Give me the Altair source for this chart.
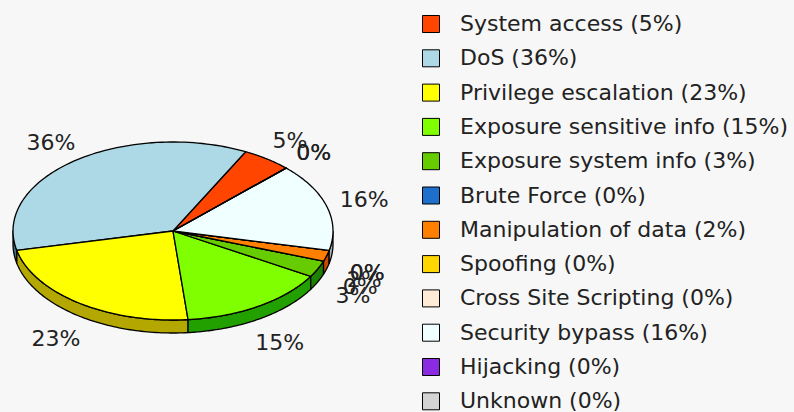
import altair as alt
import pandas as pd

# ---- data ----
labels = ["System access", "DoS", "Privilege escalation", "Exposure sensitive info",
          "Exposure system info", "Brute Force", "Manipulation of data", "Spoofing",
          "Cross Site Scripting", "Security bypass", "Hijacking", "Unknown"]
percents = [5, 36, 23, 15, 3, 0, 2, 0, 0, 16, 0, 0]

# ---- styles ----
top_colors = ["#FF4500", "#ADD8E6", "#FFFF00", "#7FFF00", "#66CC00", "#1E6FCC",
              "#FF8000", "#FFD700", "#FFEBD6", "#F0FFFF", "#8A2BE2", "#D3D3D3"]
wall_colors = ["#B33000", "#3F7080", "#B4A800", "#22A000", "#1E8000", "#104A88",
               "#C84800", "#B09400", "#B8A890", "#A8B4B4", "#5A1A99", "#909090"]

legend_labels = [f"{l} ({p}%)" for l, p in zip(labels, percents)]
df = pd.DataFrame({
    "k": list(range(len(labels))),
    "label": legend_labels,
    "pct": percents,
    "txt": [f"{p}%" for p in percents],
})

# ---- geometry of the pseudo-3D pie (pixels) ----
W, H = 794, 412
CX, CY, RX, RY, DEPTH = 173, 231, 160, 89, 13
START = -45          # degrees, screen coordinates (y down), slices run counter-clockwise
LRX, LRY, LDROP = 199, 111, 18  # label ellipse
N = 80
FONT_SIZE = 22

xs = alt.Scale(domain=[0, W], nice=False, zero=False)
ys = alt.Scale(domain=[0, H], nice=False, zero=False, reverse=True)

base = alt.Chart(df).transform_window(
    cum="sum(pct)", sort=[alt.SortField("k")], frame=[None, 0]
).transform_joinaggregate(total="sum(pct)").transform_calculate(
    a0=f"({START} - 360*(datum.cum - datum.pct)/datum.total)*PI/180",
    a1=f"({START} - 360*datum.cum/datum.total)*PI/180",
)

# side walls (front half only)
wall = base.transform_calculate(
    sh="(max(datum.a0, datum.a1) <= 0) ? 2*PI : 0",
    wl="'wall ' + datum.label",
).transform_calculate(
    wlo="max(min(datum.a0, datum.a1) + datum.sh, 0)",
    whi="min(max(datum.a0, datum.a1) + datum.sh, PI)",
).transform_filter("datum.whi > datum.wlo").transform_calculate(
    idx=f"sequence(0, {2 * N + 1})"
).transform_flatten(["idx"]).transform_calculate(
    j=f"datum.idx < {N} ? datum.idx : (datum.idx < {2 * N} ? {2 * N - 1} - datum.idx : 0)"
).transform_calculate(
    ang=f"datum.wlo + (datum.whi - datum.wlo)*datum.j/{N - 1}"
).transform_calculate(
    px=f"{CX} + {RX}*cos(datum.ang)",
    py=f"{CY} + {RY}*sin(datum.ang) + ((datum.idx >= {N} && datum.idx < {2 * N}) ? {DEPTH} : 0)",
).mark_line(filled=True, stroke="black", strokeWidth=1.3, strokeJoin="round").encode(
    x=alt.X("px:Q", scale=xs, axis=None),
    y=alt.Y("py:Q", scale=ys, axis=None),
    fill=alt.Fill("wl:N", scale=alt.Scale(domain=["wall " + s for s in legend_labels],
                                          range=wall_colors), legend=None),
    detail="label:N",
    order="idx:Q",
)

# top faces
top = base.transform_calculate(
    idx=f"sequence(0, {N + 2})"
).transform_flatten(["idx"]).transform_calculate(
    ang=f"datum.a0 + (datum.a1 - datum.a0)*(datum.idx - 1)/{N - 1}"
).transform_calculate(
    px=f"(datum.idx == 0 || datum.idx == {N + 1}) ? {CX} : {CX} + {RX}*cos(datum.ang)",
    py=f"(datum.idx == 0 || datum.idx == {N + 1}) ? {CY} : {CY} + {RY}*sin(datum.ang)",
).mark_line(filled=True, stroke="black", strokeWidth=1.3, strokeJoin="round").encode(
    x=alt.X("px:Q", scale=xs, axis=None),
    y=alt.Y("py:Q", scale=ys, axis=None),
    color=alt.Color(
        "label:N",
        scale=alt.Scale(domain=legend_labels, range=top_colors),
        legend=alt.Legend(
            title=None, orient="none", legendX=420, legendY=13,
            symbolType="square", symbolSize=289, symbolStrokeColor="black",
            symbolStrokeWidth=1, symbolOpacity=1,
            labelFont="DejaVu Sans", labelFontSize=FONT_SIZE, labelColor="#222",
            labelOffset=18, rowPadding=12.3, labelLimit=500, padding=0,
        ),
    ),
    detail="label:N",
    order="idx:Q",
)

# percentage labels
lab = base.transform_calculate(
    mid="(datum.a0 + datum.a1)/2"
).transform_calculate(
    lx=f"{CX} + {LRX}*cos(datum.mid)",
    ly=f"{CY} + {LRY}*sin(datum.mid) + (sin(datum.mid) > 0 ? {LDROP} : 0)",
).mark_text(font="DejaVu Sans", fontSize=FONT_SIZE, color="#222", baseline="middle", align="center").encode(
    x=alt.X("lx:Q", scale=xs, axis=None),
    y=alt.Y("ly:Q", scale=ys, axis=None),
    text="txt:N",
)

chart = alt.layer(wall, top, lab).resolve_scale(
    fill="independent", color="independent"
).resolve_legend(fill="independent", color="independent").properties(
    width=W, height=H, padding=0, background="#F7F7F7",
    autosize=alt.AutoSizeParams(type="none"),
).configure_view(stroke=None)

chart.save("out.html", embed_options={"renderer": "svg", "actions": False})
